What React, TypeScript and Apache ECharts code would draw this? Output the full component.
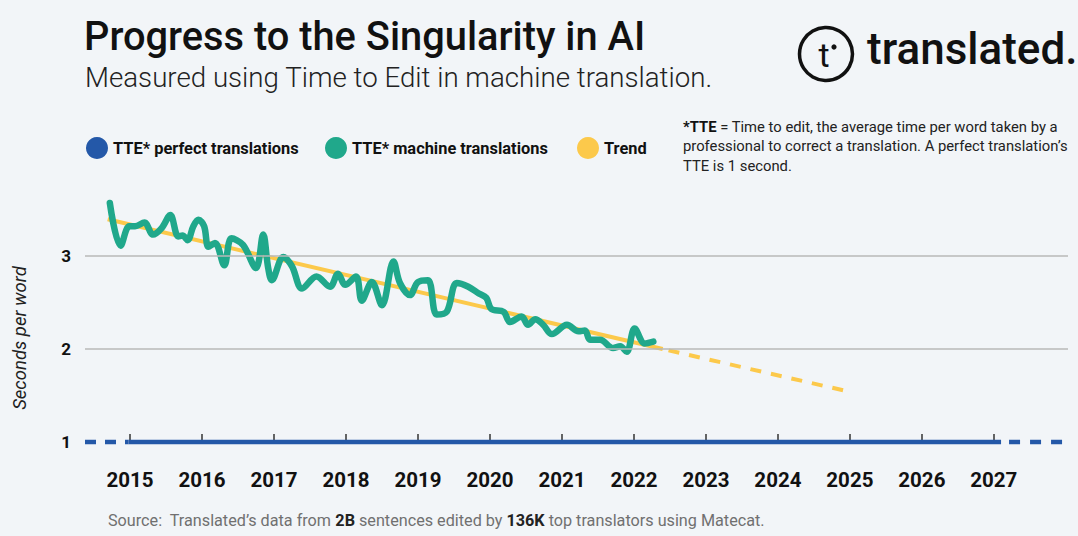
import React, { useEffect, useRef } from "react";
import * as echarts from "echarts";

// ---- data ----
const yearTicks = [2015, 2016, 2017, 2018, 2019, 2020, 2021, 2022, 2023, 2024, 2025, 2026, 2027];
const valueTicks = [1, 2, 3];

const mtYear = [
  2014.72, 2014.87, 2014.99, 2015.07, 2015.2, 2015.32, 2015.44, 2015.56, 2015.67, 2015.73,
  2015.8, 2015.88, 2015.95, 2016.03, 2016.09, 2016.18, 2016.31, 2016.41, 2016.57, 2016.75,
  2016.85, 2016.92, 2016.97, 2017.13, 2017.25, 2017.39, 2017.59, 2017.78, 2017.89, 2017.99,
  2018.14, 2018.22, 2018.36, 2018.5, 2018.66, 2018.75, 2018.89, 2019.0, 2019.14, 2019.26,
  2019.4, 2019.54, 2019.7, 2019.84, 2019.95, 2020.02, 2020.19, 2020.28, 2020.44, 2020.53,
  2020.63, 2020.74, 2020.86, 2021.07, 2021.23, 2021.32, 2021.39, 2021.53, 2021.71, 2021.81,
  2021.9, 2022.01, 2022.15, 2022.27,
];
const mtTTE = [
  3.57, 3.11, 3.32, 3.32, 3.36, 3.23, 3.3, 3.44, 3.21, 3.22,
  3.17, 3.32, 3.39, 3.32, 3.1, 3.14, 2.9, 3.19, 3.12, 2.87,
  3.23, 2.87, 2.74, 2.99, 2.89, 2.65, 2.78, 2.67, 2.81, 2.69,
  2.78, 2.52, 2.72, 2.47, 2.94, 2.71, 2.58, 2.72, 2.74, 2.37,
  2.4, 2.71, 2.67, 2.6, 2.55, 2.43, 2.4, 2.29, 2.35, 2.26,
  2.32, 2.26, 2.16, 2.26, 2.19, 2.2, 2.1, 2.1, 2.01, 2.03,
  1.97, 2.22, 2.06, 2.08,
];

const trendYear = [2014.69, 2022.4];
const trendValue = [3.395, 2.0];
const projYear = [2022.4, 2024.94];
const projValue = [2.0, 1.55];

const perfectYear = [2014.98, 2027.1];
const perfectValue = [1, 1];
const perfectLeftYear = [2014.375, 2014.98];
const perfectRightYear = [2027.1, 2028.03];

const pairs = (xs: number[], ys: number[]) => xs.map((x, i) => [x, ys[i]]);

const FONT = "Roboto, 'Noto Sans', sans-serif";
const BLUE = "#2458a8";
const GREEN = "#20a88b";
const YELLOW = "#fcc94b";

export default function App() {
  const ref = useRef<HTMLDivElement>(null);
  useEffect(() => {
    if (!ref.current) return;
    const chart = echarts.init(ref.current, undefined, { renderer: "svg" });
    chart.setOption({
      animation: false,
      backgroundColor: "#f2f5f8",
      textStyle: { fontFamily: FONT },
      grid: {
        left: 85,
        right: 10,
        top: 181.6,
        bottom: 94,
        containLabel: false,
        outerBoundsMode: "none",
      },
      legend: [
        { name: "TTE* perfect translations", x: 86 },
        { name: "TTE* machine translations", x: 325 },
        { name: "Trend", x: 577 },
      ].map((l) => ({
        left: l.x,
        top: 137,
        padding: 0,
        data: [l.name],
        icon: "circle",
        itemWidth: 22,
        itemHeight: 22,
        selectedMode: false,
        textStyle: { fontFamily: FONT, fontSize: 16.4, fontWeight: "bold", color: "#111" },
      })),
      xAxis: {
        type: "value",
        min: 2014.375,
        max: 2028.03,
        axisLine: { show: false },
        splitLine: { show: false },
        axisTick: {
          show: true,
          inside: true,
          length: 8,
          customValues: yearTicks,
          lineStyle: { color: "#333", width: 1.5 },
        },
        axisLabel: {
          customValues: yearTicks,
          formatter: (v: number) => String(Math.round(v)),
          margin: 27,
          fontSize: 20.5,
          fontWeight: "bold",
          color: "#111",
          fontFamily: FONT,
        },
      },
      yAxis: {
        type: "value",
        min: 1,
        max: 3.8,
        interval: 1,
        axisLine: { show: false },
        axisTick: { show: false },
        splitLine: { show: false },
        axisLabel: {
          customValues: valueTicks,
          formatter: (v: number) => (Number.isInteger(v) ? String(v) : ""),
          margin: 14,
          fontSize: 17,
          fontWeight: "bold",
          color: "#111",
          fontFamily: FONT,
        },
      },
      series: [
        {
          name: "gridlines",
          type: "line",
          data: [],
          z: 1,
          markLine: {
            silent: true,
            symbol: ["none", "none"],
            label: { show: false },
            lineStyle: { color: "#b9b9b9", width: 1.5, type: "solid" },
            data: valueTicks.filter((v) => v > 1).map((v) => ({ yAxis: v })),
          },
        },
        {
          name: "TTE* perfect translations",
          type: "line",
          data: pairs(perfectYear, perfectValue),
          showSymbol: false,
          clip: false,
          color: BLUE,
          lineStyle: { color: BLUE, width: 4.5 },
          z: 3,
        },
        {
          name: "perfect-left",
          type: "line",
          data: pairs(perfectLeftYear, perfectValue),
          showSymbol: false,
          clip: false,
          lineStyle: { color: BLUE, width: 4.5, type: [11, 9] },
          z: 3,
        },
        {
          name: "perfect-right",
          type: "line",
          data: pairs(perfectRightYear, perfectValue),
          showSymbol: false,
          clip: false,
          lineStyle: { color: BLUE, width: 4.5, type: [11, 10], dashOffset: -8 },
          z: 3,
        },
        {
          name: "Trend",
          type: "line",
          data: pairs(trendYear, trendValue),
          showSymbol: false,
          color: YELLOW,
          lineStyle: { color: YELLOW, width: 4 },
          z: 3,
        },
        {
          name: "projection",
          type: "line",
          data: pairs(projYear, projValue),
          showSymbol: false,
          lineStyle: { color: YELLOW, width: 4, type: [11, 10], dashOffset: -6 },
          z: 3,
        },
        {
          name: "TTE* machine translations",
          type: "line",
          data: pairs(mtYear, mtTTE),
          smooth: 0.35,
          showSymbol: false,
          color: GREEN,
          lineStyle: { color: GREEN, width: 6.5, cap: "round", join: "round" },
          z: 4,
        },
      ],
      graphic: [
        {
          type: "text",
          left: 84,
          top: 16,
          style: {
            text: "Progress to the Singularity in AI",
            font: `500 39.8px ${FONT}`,
            fill: "#111",
          },
        },
        {
          type: "text",
          left: 85,
          top: 63,
          style: {
            text: "Measured using Time to Edit in machine translation.",
            font: `300 27.7px ${FONT}`,
            fill: "#222",
          },
        },
        {
          type: "circle",
          shape: { cx: 826, cy: 54, r: 26.5 },
          style: { fill: "none", stroke: "#111", lineWidth: 3.5 },
        },
        {
          type: "text",
          x: 824,
          y: 55,
          style: {
            text: "t",
            font: `400 34px ${FONT}`,
            fill: "#111",
            textAlign: "center",
            textVerticalAlign: "middle",
          },
        },
        {
          type: "circle",
          shape: { cx: 834, cy: 47, r: 2.6 },
          style: { fill: "#111" },
        },
        {
          type: "text",
          left: 867,
          top: 27,
          style: {
            text: "translated.",
            font: `500 44px ${FONT}`,
            fill: "#111",
          },
        },
        {
          type: "text",
          left: 683,
          top: 117,
          style: {
            text:
              "{b|*TTE} = Time to edit, the average time per word taken by a\nprofessional to correct a translation. A perfect translation’s\nTTE is 1 second.",
            font: `400 14.8px ${FONT}`,
            fill: "#222",
            lineHeight: 19.5,
            rich: {
              b: { font: `bold 14.8px ${FONT}`, fill: "#111", lineHeight: 19.5 },
            },
          },
        },
        {
          type: "text",
          x: 20,
          y: 338,
          rotation: Math.PI / 2,
          style: {
            text: "Seconds per word",
            font: `italic 400 18.5px ${FONT}`,
            fill: "#222",
            textAlign: "center",
            textVerticalAlign: "middle",
          },
        },
        {
          type: "text",
          left: 108,
          top: 512,
          style: {
            text:
              "Source:  Translated’s data from {b|2B} sentences edited by {b|136K} top translators using Matecat.",
            font: `400 16.2px ${FONT}`,
            fill: "#707070",
            rich: {
              b: { font: `bold 16.2px ${FONT}`, fill: "#222" },
            },
          },
        },
      ],
    });
    return () => chart.dispose();
  }, []);
  return (
    <div
      ref={ref}
      style={{ position: "fixed", left: 0, top: 0, width: 1078, height: 536 }}
    />
  );
}
